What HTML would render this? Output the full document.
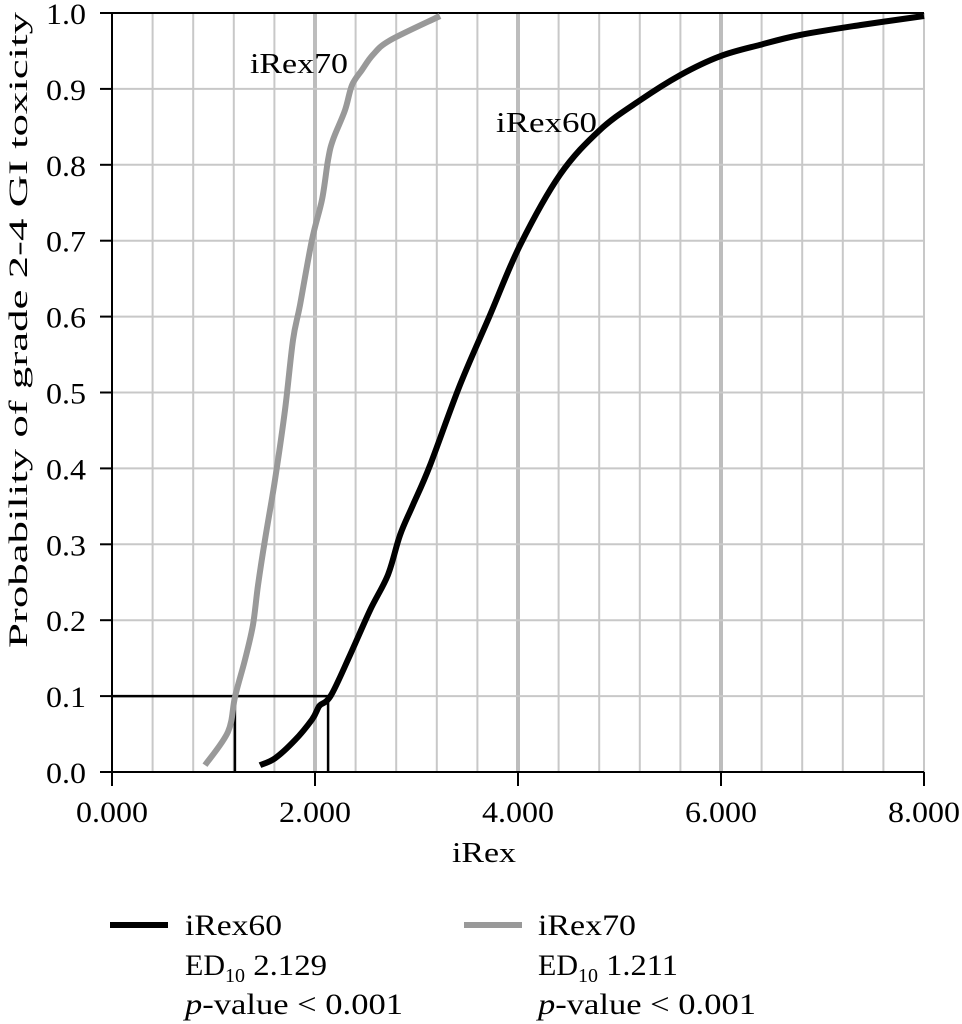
<!DOCTYPE html>
<html><head><meta charset="utf-8"><style>
html,body{margin:0;padding:0;background:#fff;}
svg{display:block;font-family:"Liberation Serif",serif;}
</style></head><body>
<svg id="chart" width="962" height="1024" viewBox="0 0 962 1024">
<g id="grid"></g>
<g id="axes"></g>
<g id="series"></g>
<text x="250" y="73" font-size="29" textLength="98" lengthAdjust="spacingAndGlyphs">iRex70</text>
<text x="496" y="132" font-size="29" textLength="101" lengthAdjust="spacingAndGlyphs">iRex60</text>
<text x="452" y="862" font-size="29" textLength="64" lengthAdjust="spacingAndGlyphs">iRex</text>
<text transform="translate(27,648) rotate(-90)" font-size="26" textLength="636" lengthAdjust="spacingAndGlyphs">Probability of grade 2-4 GI toxicity</text>
<g>
<line x1="110" y1="925" x2="168" y2="925" stroke="#000" stroke-width="6"/>
<text x="185" y="935" font-size="30" textLength="97" lengthAdjust="spacingAndGlyphs">iRex60</text>
<text x="185" y="975" font-size="30">ED<tspan font-size="20" dy="7">10</tspan><tspan dy="-7" textLength="82" lengthAdjust="spacingAndGlyphs"> 2.129</tspan></text>
<text x="185" y="1014" font-size="30" textLength="218" lengthAdjust="spacingAndGlyphs"><tspan font-style="italic">p</tspan>-value &lt; 0.001</text>
<line x1="464" y1="925" x2="522" y2="925" stroke="#999" stroke-width="6"/>
<text x="538" y="935" font-size="30" textLength="98" lengthAdjust="spacingAndGlyphs">iRex70</text>
<text x="538" y="975" font-size="30">ED<tspan font-size="20" dy="7">10</tspan><tspan dy="-7" textLength="80" lengthAdjust="spacingAndGlyphs"> 1.211</tspan></text>
<text x="538" y="1014" font-size="30" textLength="218" lengthAdjust="spacingAndGlyphs"><tspan font-style="italic">p</tspan>-value &lt; 0.001</text>
</g>
</svg>
<script>
const xTicks = [0, 2, 4, 6, 8];
const xTickLabels = ["0.000", "2.000", "4.000", "6.000", "8.000"];
const yTicks = [0, 0.1, 0.2, 0.3, 0.4, 0.5, 0.6, 0.7, 0.8, 0.9, 1.0];
const yTickLabels = ["0.0","0.1","0.2","0.3","0.4","0.5","0.6","0.7","0.8","0.9","1.0"];
const irex70X = [0.916,1.143,1.212,1.310,1.389,1.438,1.507,1.606,1.704,1.783,1.852,1.970,2.069,2.128,2.177,2.296,2.365,2.463,2.571,2.739,3.232];
const irex70Y = [0.009,0.053,0.099,0.148,0.194,0.246,0.306,0.385,0.477,0.569,0.615,0.701,0.754,0.806,0.833,0.872,0.905,0.925,0.945,0.964,0.996];
const irex60X = [1.458,1.606,1.803,1.970,2.030,2.049,2.158,2.345,2.542,2.719,2.837,2.966,3.133,3.429,3.724,4.020,4.414,4.808,5.202,5.596,5.990,6.384,6.778,7.369,8.0];
const irex60Y = [0.009,0.018,0.042,0.069,0.084,0.088,0.101,0.154,0.213,0.260,0.312,0.352,0.404,0.510,0.602,0.694,0.787,0.846,0.885,0.918,0.943,0.958,0.971,0.984,0.996];
const ed10 = [2.129, 1.211];
const ed10Level = 0.1;

const NS = "http://www.w3.org/2000/svg";
const X = v => 112 + v * 101.5;
const Y = v => 772 - v * 759;
function mk(parent, tag, attrs) {
  const e = document.createElementNS(NS, tag);
  for (const k in attrs) e.setAttribute(k, attrs[k]);
  parent.appendChild(e);
  return e;
}
const grid = document.getElementById('grid');
const axes = document.getElementById('axes');
const series = document.getElementById('series');

for (let i = 1; i <= 20; i++) {
  const v = i * 0.4;
  const major = Math.abs(v / 2 - Math.round(v / 2)) < 1e-6 && v < 8;
  const l = mk(grid, 'line', {x1: X(v), x2: X(v), y1: Y(0), y2: Y(1), stroke: major ? '#bdbdbd' : '#c8c8c8', 'stroke-width': major ? 4 : 2});
  
  
}
for (let i = 1; i < yTicks.length; i++) {
  const l = mk(grid, 'line', {x1: X(0), x2: X(8), y1: Y(yTicks[i]), y2: Y(yTicks[i]), stroke: '#c8c8c8', 'stroke-width': 2});
  
  
}
let a = mk(axes, 'line', {x1: X(0), x2: X(8), y1: Y(0), y2: Y(0), stroke: '#000', 'stroke-width': 2});


a = mk(axes, 'line', {x1: X(0), x2: X(0), y1: Y(0), y2: Y(1), stroke: '#000', 'stroke-width': 2});


a = mk(axes, 'line', {x1: X(0), x2: X(8), y1: Y(1), y2: Y(1), stroke: '#000', 'stroke-width': 2});



xTicks.forEach((v, i) => {
  const t = mk(axes, 'line', {x1: X(v), x2: X(v), y1: Y(0), y2: Y(0) + 14, stroke: '#000', 'stroke-width': 2});
  
  
  const tx = mk(axes, 'text', {x: X(v) - 36, y: 822, 'font-size': 30, textLength: 72, lengthAdjust: 'spacingAndGlyphs'});
  tx.textContent = xTickLabels[i];
  
  
});
yTicks.forEach((v, i) => {
  const t = mk(axes, 'line', {x1: X(0) - 12, x2: X(0), y1: Y(v), y2: Y(v), stroke: '#000', 'stroke-width': 2});
  
  
  const tx = mk(axes, 'text', {x: 46, y: Y(v) + 11, 'font-size': 30, textLength: 40, lengthAdjust: 'spacingAndGlyphs'});
  tx.textContent = yTickLabels[i];
  
  
});

let r = mk(series, 'line', {x1: X(0), x2: X(ed10[0]), y1: Y(ed10Level), y2: Y(ed10Level), stroke: '#000', 'stroke-width': 2.5});


ed10.forEach(v => {
  const l = mk(series, 'line', {x1: X(v), x2: X(v), y1: Y(ed10Level), y2: Y(0), stroke: '#000', 'stroke-width': 2.5});
  
  
});
function curve(xs, ys, color, name) {
  const P = xs.map((v, i) => [X(v), Y(ys[i])]);
  let d = 'M' + P[0][0].toFixed(1) + ',' + P[0][1].toFixed(1);
  for (let i = 0; i < P.length - 1; i++) {
    const p0 = P[Math.max(0, i - 1)], p1 = P[i], p2 = P[i + 1], p3 = P[Math.min(P.length - 1, i + 2)];
    const c1 = [p1[0] + (p2[0] - p0[0]) / 6, p1[1] + (p2[1] - p0[1]) / 6];
    const c2 = [p2[0] - (p3[0] - p1[0]) / 6, p2[1] - (p3[1] - p1[1]) / 6];
    d += ' C' + c1.map(n => n.toFixed(1)).join(',') + ' ' + c2.map(n => n.toFixed(1)).join(',') + ' ' + p2.map(n => n.toFixed(1)).join(',');
  }
  const p = mk(series, 'path', {d: d, fill: 'none', stroke: color, 'stroke-width': 6, 'stroke-linejoin': 'round'});
  
  
}
curve(irex70X, irex70Y, '#999', 'irex70-curve');
curve(irex60X, irex60Y, '#000', 'irex60-curve');
</script>
</body></html>
